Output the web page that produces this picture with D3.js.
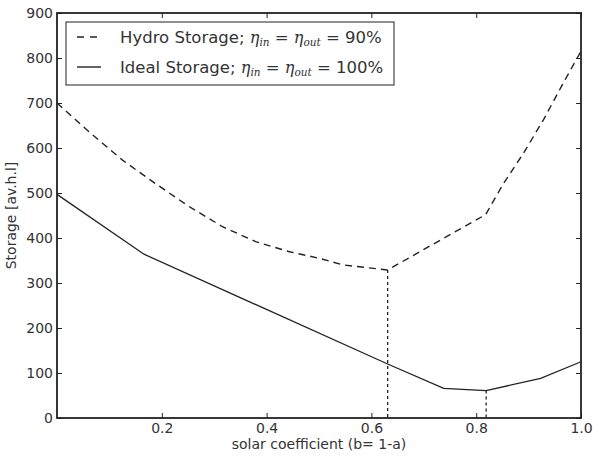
<!DOCTYPE html>
<html><head><meta charset="utf-8">
<script src="https://cdn.jsdelivr.net/npm/d3@7"></script>
<style>body{margin:0;background:#fff}svg{display:block}text{font-family:"DejaVu Sans",sans-serif;fill:#333}</style>
</head><body><svg id="c" width="596" height="458"></svg>
<script>
const hydroX = [0.0, 0.061, 0.125, 0.189, 0.252, 0.316, 0.379, 0.442, 0.5, 0.547, 0.631, 0.719, 0.818, 0.852, 0.890, 0.928, 0.966, 1.0];
const hydroY = [700, 636, 573, 520, 470, 425, 392, 370, 355, 340, 329, 387, 452, 521, 588, 662, 744, 815];
const idealX = [0.0, 0.166, 0.631, 0.738, 0.819, 0.923, 1.0];
const idealY = [497, 364, 120, 66, 61, 88, 125];
const optX = [0.631, 0.819];
const optY = [329, 61];
const xTicks = [0.2, 0.4, 0.6, 0.8, 1.0];
const yTicks = [0, 100, 200, 300, 400, 500, 600, 700, 800, 900];

const svg = d3.select("#c");
const L = 57, R = 581, T = 13, B = 418;
const x = d3.scaleLinear().domain([0, 1]).range([L, R]);
const y = d3.scaleLinear().domain([0, 900]).range([B, T]);
const col = "#222";

const g = svg.append("g");
const ax = (gen, tr) => {
  const a = g.append("g").attr("transform", tr).call(gen);
  a.select(".domain").remove();
  a.selectAll("line").attr("stroke", col).attr("stroke-width", 1);
  a.selectAll("text").style("font-size", "14px").attr("fill", "#333");
  return a;
};
ax(d3.axisBottom(x).tickValues(xTicks).tickSize(-5).tickPadding(5).tickFormat(d3.format(".1f")), `translate(0,${B})`);
ax(d3.axisTop(x).tickValues(xTicks).tickSize(-5).tickFormat(""), `translate(0,${T})`);
ax(d3.axisLeft(y).tickValues(yTicks).tickSize(-5).tickPadding(4).tickFormat(d3.format("d")), `translate(${L},0)`);
ax(d3.axisRight(y).tickValues(yTicks).tickSize(-5).tickFormat(""), `translate(${R},0)`);

const line = d3.line().x(d => x(d[0])).y(d => y(d[1]));
const hydro = hydroX.map((v, i) => [v, hydroY[i]]);
const ideal = idealX.map((v, i) => [v, idealY[i]]);

svg.append("path").attr("d", line(hydro)).attr("fill", "none").attr("stroke", col)
  .attr("stroke-width", 1.4).attr("stroke-dasharray", "7,5");
svg.append("path").attr("d", line(ideal)).attr("fill", "none").attr("stroke", col)
  .attr("stroke-width", 1.3);
optX.forEach((v, i) => {
  svg.append("path").attr("d", line([[v, optY[i]], [v, 0]])).attr("fill", "none")
    .attr("stroke", col).attr("stroke-width", 1.3).attr("stroke-dasharray", "3,3");
});

svg.append("rect").attr("x", L).attr("y", T).attr("width", R - L).attr("height", B - T)
  .attr("fill", "none").attr("stroke", col).attr("stroke-width", 1.8);

svg.append("text").attr("x", (L + R) / 2).attr("y", 449).attr("text-anchor", "middle")
  .style("font-size", "14px").text("solar coefficient (b= 1-a)");
svg.append("text").attr("transform", `translate(16,${(T + B) / 2}) rotate(-90)`)
  .attr("text-anchor", "middle").style("font-size", "14px").text("Storage [av.h.l]");

// legend
const lg = svg.append("g");
lg.append("rect").attr("x", 66).attr("y", 22).attr("width", 328).attr("height", 63)
  .attr("fill", "#fff").attr("stroke", col).attr("stroke-width", 1);
const entries = [
  {name: "Hydro Storage; ", val: "90%", dash: "7,6"},
  {name: "Ideal Storage; ", val: "100%", dash: null}
];
entries.forEach((e, i) => {
  const yy = 37 + i * 30;
  const ln = lg.append("line").attr("x1", 77).attr("x2", 101).attr("y1", yy).attr("y2", yy)
    .attr("stroke", col).attr("stroke-width", 1.4);
  if (e.dash) ln.attr("stroke-dasharray", e.dash);
  const t = lg.append("text").attr("x", 120).attr("y", yy + 6).style("font-size", "16.5px");
  t.append("tspan").text(e.name);
  const mi = s => t.append("tspan").style("font-family", "'DejaVu Serif',serif").style("font-style", "italic").style("font-size", "16px").text(s);
  const sub = s => t.append("tspan").style("font-family", "'DejaVu Serif',serif").style("font-style", "italic")
    .style("font-size", "10.5px").attr("dy", 3).text(s);
  mi("η"); sub("in");
  t.append("tspan").attr("dy", -3).text(" = ");
  mi("η"); sub("out");
  t.append("tspan").attr("dy", -3).text(" = " + e.val);
});
</script></body></html>
